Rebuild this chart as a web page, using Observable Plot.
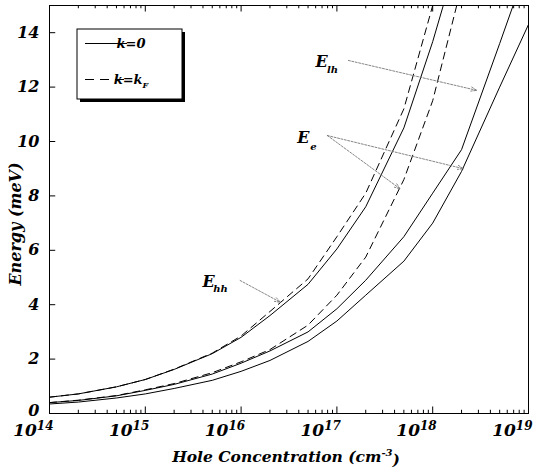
<!DOCTYPE html>
<html>
<head>
<meta charset="utf-8">
<script src="https://cdn.jsdelivr.net/npm/d3@7"></script>
<script src="https://cdn.jsdelivr.net/npm/@observablehq/plot@0.6"></script>
<style>
  html, body { margin: 0; padding: 0; background: #fff; }
  #chart { width: 534px; height: 468px; }
</style>
</head>
<body>
<div id="chart"></div>
<script>
// ---- data ----
const conc = [1e14, 2e14, 5e14, 1e15, 2e15, 5e15, 1e16, 2e16, 5e16, 1e17, 2e17, 5e17, 1e18, 2e18, 5e18, 1e19];
const eHhK0 = [0.60, 0.72, 0.98, 1.25, 1.62, 2.20, 2.80, 3.60, 4.75, 6.05, 7.60, 10.5, 13.67, 17.3, null, null];
const eHhKF = [0.60, 0.72, 0.98, 1.25, 1.63, 2.22, 2.85, 3.75, 4.95, 6.50, 8.10, 11.2, 15.0, null, null, null];
const eLhK0 = [0.40, 0.48, 0.65, 0.85, 1.07, 1.45, 1.85, 2.30, 3.00, 3.85, 4.90, 6.50, 8.10, 9.70, 13.6, 16.6];
const eEK0  = [0.35, 0.42, 0.57, 0.72, 0.92, 1.22, 1.55, 1.95, 2.65, 3.40, 4.35, 5.60, 7.00, 8.90, 12.0, 14.3];
const eEKF  = [0.40, 0.49, 0.66, 0.87, 1.10, 1.50, 1.90, 2.35, 3.25, 4.35, 5.75, 8.60, 11.5, 15.7, null, null];

const yTicks = [0, 2, 4, 6, 8, 10, 12, 14];
const xTicks = [1e14, 1e15, 1e16, 1e17, 1e18, 1e19];
const xMinor = d3.range(14, 19).flatMap(p => d3.range(2, 10).map(m => m * 10 ** p));

const legendItems = ["k=0", "k=k"];
const labelNames = [{main: "E", sub: "lh"}, {main: "E", sub: "e"}, {main: "E", sub: "hh"}];
// annotation anchors (data units)
const labelAt = [[10 ** 16.84, 12.92], [10 ** 16.65, 10.13], [10 ** 15.66, 4.85]];
const arrowsAt = [
  [10 ** 17.12, 12.98, 10 ** 18.46, 11.88],
  [10 ** 16.90, 10.22, 10 ** 18.32, 9.00],
  [10 ** 16.90, 10.22, 10 ** 17.66, 8.26],
  [10 ** 15.99, 4.89, 10 ** 16.41, 4.09]
];

// ---- build rows ----
const mk = (vals, name) => conc.map((n, i) => ({n, E: vals[i], series: name}));
const solidRows = [...mk(eHhK0, "hh0"), ...mk(eLhK0, "lh0"), ...mk(eEK0, "e0")];
const dashedRows = [...mk(eHhKF, "hhF"), ...mk(eEKF, "eF")];
const labels = labelNames.map((d, i) => ({...d, n: labelAt[i][0], E: labelAt[i][1]}));
const arrows = arrowsAt.map(a => ({x1: a[0], y1: a[1], x2: a[2], y2: a[3]}));

const FONT = "DejaVu Serif";
const fontOpts = {fontFamily: FONT, fontWeight: "bold", fontStyle: "italic"};

const chart = Plot.plot({
  width: 534,
  height: 468,
  marginLeft: 49,
  marginRight: 6,
  marginTop: 5,
  marginBottom: 55,
  x: {type: "log", domain: [1e14, 1e19], axis: null},
  y: {domain: [0, 15], axis: null},
  style: {fontFamily: FONT, background: "#fff", color: "#000"},
  marks: [
    // inward ticks
    Plot.ruleX(xTicks, {x: d => d, y1: () => 0, y2: () => 0.24, stroke: "#000", strokeWidth: 1}),
    Plot.ruleX(xMinor, {x: d => d, y1: () => 0, y2: () => 0.12, stroke: "#000", strokeWidth: 1}),
    Plot.ruleX(xTicks, {x: d => d, y1: () => 15, y2: () => 14.76, stroke: "#000", strokeWidth: 1}),
    Plot.ruleX(xMinor, {x: d => d, y1: () => 15, y2: () => 14.88, stroke: "#000", strokeWidth: 1}),
    Plot.ruleY(yTicks, {y: d => d, x1: () => 1e14, x2: () => 10 ** 14.065, stroke: "#000", strokeWidth: 1}),
    // curves
    Plot.line(solidRows, {x: "n", y: "E", z: "series", stroke: "#000", strokeWidth: 1, clip: true}),
    Plot.line(dashedRows, {x: "n", y: "E", z: "series", stroke: "#000", strokeWidth: 1, strokeDasharray: "7,5", clip: true}),
    // annotation arrows
    Plot.arrow(arrows, {x1: "x1", y1: "y1", x2: "x2", y2: "y2", stroke: "#777", strokeWidth: 0.9,
      strokeDasharray: "2,1.5", headLength: 10, headAngle: 40}),
    Plot.text(labels, {x: "n", y: "E", text: "main", fontSize: 16, ...fontOpts, textAnchor: "middle", lineAnchor: "middle"}),
    Plot.text(labels, {x: "n", y: "E", text: "sub", fontSize: 10, ...fontOpts, textAnchor: "middle", lineAnchor: "middle"}),
    // axes
    Plot.axisY({ticks: yTicks, tickSize: 0, tickPadding: 10, fontSize: 16, ...fontOpts}),
    Plot.axisX({ticks: xTicks, tickSize: 0, tickPadding: 10, fontSize: 17, ...fontOpts,
      tickFormat: d => String(Math.round(Math.log10(d)))}),
    Plot.frame({stroke: "#000", strokeWidth: 1})
  ]
});

const svg = d3.select(chart);

// subscript offsets for annotation labels
const subG = svg.selectAll("g[aria-label='text']").filter((d, i) => i === 1);
subG.selectAll("text").each(function(d, i) {
  const t = d3.select(this);
  const off = [[11, 8], [10, 9], [12, 7]][i];
  t.attr("transform", (t.attr("transform") || "") + ` translate(${off[0]},${off[1]})`);
});

// lift the "0" label slightly so it clears the 10^14 label
svg.selectAll("g[aria-label='y-axis tick label'] text").each(function() {
  const t = d3.select(this);
  if (t.text() === "0") t.attr("transform", (t.attr("transform") || "") + " translate(0,-3)");
});

// x tick labels as 10^n
svg.selectAll("g[aria-label='x-axis tick label'] text").each(function() {
  const t = d3.select(this);
  const exp = t.text();
  t.text(null);
  t.attr("text-anchor", "end").attr("transform", (t.attr("transform") || "") + " translate(4,0)");
  t.append("tspan").text("10");
  t.append("tspan").attr("font-size", 12).attr("dy", "-0.45em").text(exp);
});

// axis titles
svg.append("text")
  .attr("x", 286).attr("y", 462)
  .attr("text-anchor", "middle")
  .attr("font-family", FONT).attr("font-weight", "bold").attr("font-style", "italic")
  .attr("font-size", 15.5)
  .call(t => {
    t.append("tspan").text("Hole Concentration (cm");
    t.append("tspan").attr("font-size", 10).attr("dy", "-0.6em").text("-3");
    t.append("tspan").attr("dy", "0.6em").text(")");
  });
svg.append("text")
  .attr("transform", "translate(21,224) rotate(-90)")
  .attr("text-anchor", "middle")
  .attr("font-family", FONT).attr("font-weight", "bold").attr("font-style", "italic")
  .attr("font-size", 16)
  .text("Energy (meV)");

// legend
const lg = svg.append("g");
lg.append("rect").attr("x", 80).attr("y", 32).attr("width", 105).attr("height", 70).attr("fill", "#000");
lg.append("rect").attr("x", 77).attr("y", 29).attr("width", 105).attr("height", 70)
  .attr("fill", "#fff").attr("stroke", "#000").attr("stroke-width", 1);
lg.append("line").attr("x1", 85).attr("x2", 127).attr("y1", 43.5).attr("y2", 43.5).attr("stroke", "#000");
lg.append("line").attr("x1", 85).attr("x2", 127).attr("y1", 79.5).attr("y2", 79.5).attr("stroke", "#000")
  .attr("stroke-dasharray", "9,6");
const lt = (y, s, sub) => {
  const t = lg.append("text").attr("x", 131).attr("y", y)
    .attr("font-family", FONT).attr("font-weight", "bold").attr("font-style", "italic").attr("font-size", 13);
  t.append("tspan").text(s);
  if (sub) t.append("tspan").attr("font-size", 8).attr("dy", "0.45em").text(sub);
};
lt(48, legendItems[0]);
lt(84, legendItems[1], "F");

document.getElementById("chart").appendChild(chart);
</script>
</body>
</html>
